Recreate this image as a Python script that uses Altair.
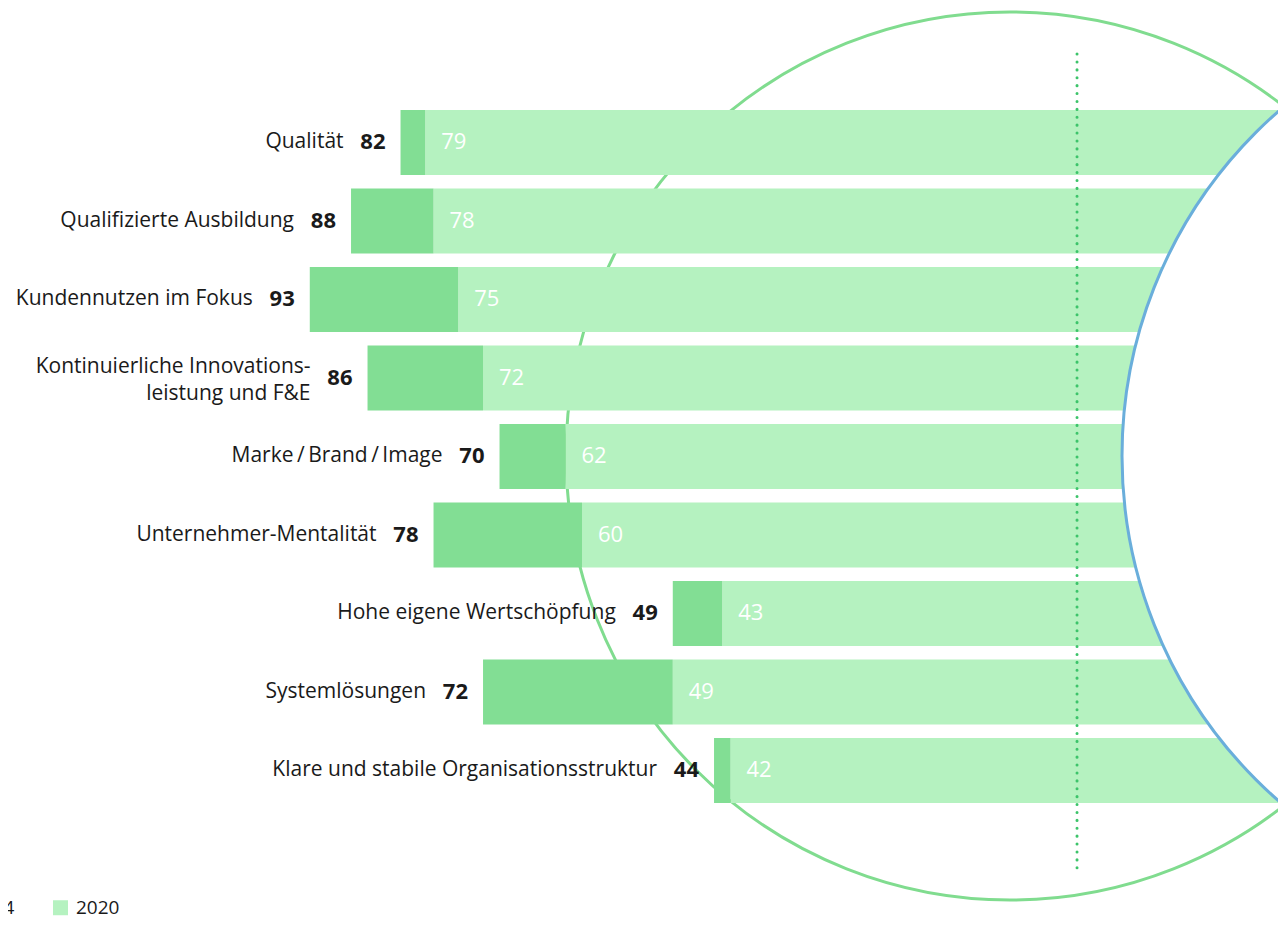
import altair as alt
import pandas as pd

categories = [
    "Qualität",
    "Qualifizierte Ausbildung",
    "Kundennutzen im Fokus",
    "Kontinuierliche Innovations-\nleistung und F&E",
    "Marke\u2009/\u2009Brand\u2009/\u2009Image",
    "Unternehmer-Mentalität",
    "Hohe eigene Wertschöpfung",
    "Systemlösungen",
    "Klare und stabile Organisationsstruktur",
]
values_2014 = [82, 88, 93, 86, 70, 78, 49, 72, 44]
values_2020 = [79, 78, 75, 72, 62, 60, 43, 49, 42]
series = ["2014", "2020"]

W, H = 1270, 910
FONT = "Open Sans"
DARK = "#82de94"
LIGHT = "#b5f2c0"
CIRCLE_GREEN = "#80dc8f"
BLUE = "#6aaedb"
DOTS = "#3cc46a"
TEXT = "#1a1a1a"

df = pd.DataFrame({
    "cat": categories,
    "v2014": values_2014,
    "v2020": values_2020,
    "i": list(range(len(categories))),
})
df["multi"] = df["cat"].str.contains("\n")

base = alt.Chart(df).transform_calculate(
    y0="datum.i - 0.414", y1="datum.i + 0.414"
)

xs = alt.Scale(domain=[-24.36, 129.58], reverse=True, nice=False, zero=False)
ys = alt.Scale(domain=[-1.713, 9.879], reverse=True, nice=False, zero=False)
cs = alt.Scale(domain=series, range=[DARK, LIGHT])

one = alt.Data(values=[{"a": 1}])

green_circle = alt.Chart(one).mark_point(
    shape="circle", size=888 ** 2, filled=False, stroke=CIRCLE_GREEN,
    strokeWidth=3, opacity=1
).encode(x=alt.value(1002), y=alt.value(448))

light = base.mark_rect().encode(
    x=alt.X("v2020:Q", scale=xs, axis=None),
    x2=alt.value(W),
    y=alt.Y("y0:Q", scale=ys, axis=None),
    y2="y1:Q",
    color=alt.Color(
        "s:N", scale=cs,
        legend=alt.Legend(
            orient="none", legendX=-62, legendY=890, direction="horizontal",
            title=None, symbolType="square", symbolSize=225,
            symbolStrokeWidth=0, symbolOpacity=1,
            labelFont=FONT, labelFontSize=19, labelColor=TEXT,
            labelOffset=6, columnPadding=36,
        ),
    ),
).transform_calculate(s="'2020'")

dark = base.mark_rect().encode(
    x=alt.X("v2014:Q", scale=xs, axis=None),
    x2="v2020:Q",
    y=alt.Y("y0:Q", scale=ys, axis=None),
    y2="y1:Q",
    color=alt.Color("s:N", scale=cs),
).transform_calculate(s="'2014'")

blue_circle = alt.Chart(one).mark_point(
    shape="circle", size=916 ** 2, filled=True, fill="white", stroke=BLUE,
    strokeWidth=3, opacity=1, fillOpacity=1, strokeOpacity=1
).encode(x=alt.value(1572), y=alt.value(448))

dots = alt.Chart(one).mark_rule(
    strokeDash=[0.1, 7.8], strokeCap="round", strokeWidth=3, color=DOTS
).encode(x=alt.datum(0, scale=xs), y=alt.value(46), y2=alt.value(867))

cat_single = base.transform_filter("!datum.multi").mark_text(
    align="right", baseline="middle", dx=-57, font=FONT, fontSize=21,
    color=TEXT
).encode(x=alt.X("v2014:Q", scale=xs), y=alt.Y("i:Q", scale=ys), text="cat:N")

cat_multi = base.transform_filter("datum.multi").mark_text(
    align="right", baseline="middle", dx=-57, dy=-11, font=FONT, fontSize=21,
    color=TEXT, lineBreak="\n", lineHeight=27
).encode(x=alt.X("v2014:Q", scale=xs), y=alt.Y("i:Q", scale=ys), text="cat:N")

val14 = base.mark_text(
    align="right", baseline="middle", dx=-15, font=FONT, fontSize=22,
    fontWeight="bold", color=TEXT
).encode(x=alt.X("v2014:Q", scale=xs), y=alt.Y("i:Q", scale=ys), text="v2014:Q")

val20 = base.mark_text(
    align="left", baseline="middle", dx=16, font=FONT, fontSize=22,
    color="white"
).encode(x=alt.X("v2020:Q", scale=xs), y=alt.Y("i:Q", scale=ys), text="v2020:Q")

chart = alt.layer(
    green_circle, light, dark, blue_circle, dots, cat_single, cat_multi, val14, val20
).properties(
    width=W, height=H, autosize=alt.AutoSizeParams(type="none"), padding=0
).configure_view(stroke="transparent")

chart.save("out.html", embed_options={"renderer": "svg", "actions": False})
